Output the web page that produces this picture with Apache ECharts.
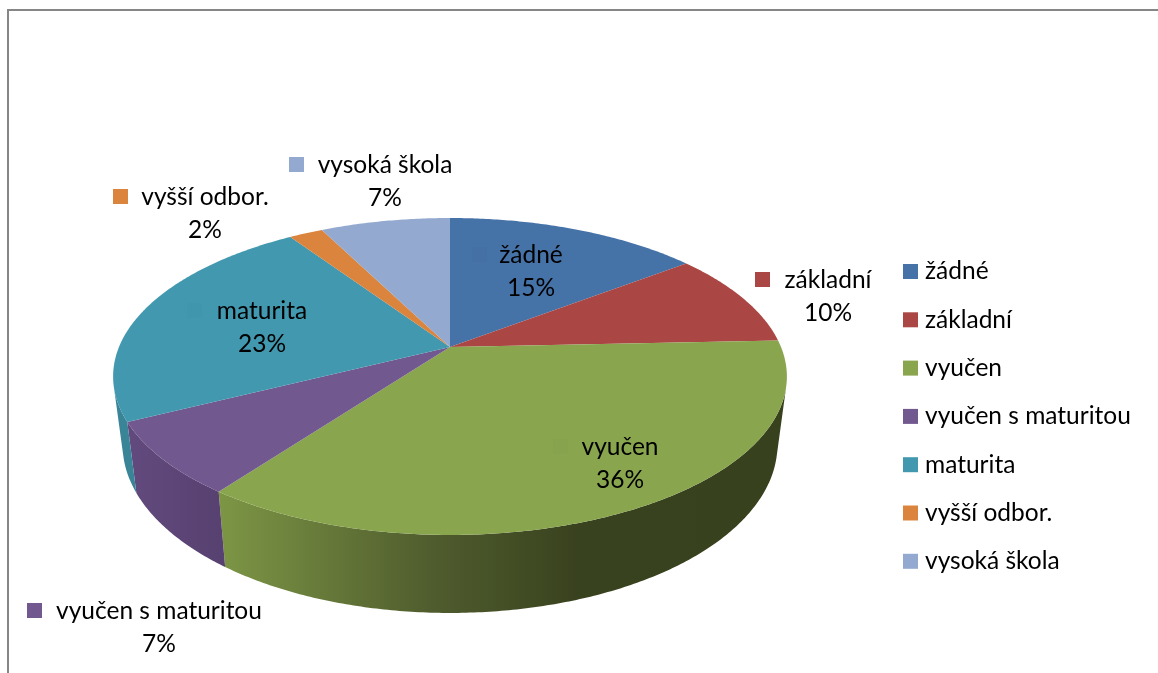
<!DOCTYPE html>
<html>
<head>
<meta charset="utf-8">
<style>
  html, body { margin: 0; padding: 0; background: #fff; }
  #chart { width: 1158px; height: 673px; }
</style>
<script src="https://cdn.jsdelivr.net/npm/echarts@6/dist/echarts.min.js"></script>
</head>
<body>
<div id="chart"></div>
<script>
const categories = ['žádné', 'základní', 'vyučen', 'vyučen s maturitou', 'maturita', 'vyšší odbor.', 'vysoká škola'];
const shares = [14.6, 9.7, 35.8, 7.45, 23, 1.95, 7.45];

const colors = ['#4572a7', '#aa4643', '#89a54e', '#71588f', '#4198af', '#db843d', '#93a9cf'];
// side wall shading, only the front slices show it
const wallStops = [
  [[0, '#2f4d70'], [1, '#2f4d70']],
  [[0, '#6e2e2c'], [1, '#6e2e2c']],
  [[0, '#7d9645'], [0.37, '#505d2e'], [0.63, '#39421e'], [1, '#38411d']],
  [[0, '#624a7e'], [1, '#574170']],
  [[0, '#3a8498'], [1, '#3a8498']],
  [[0, '#8f5628'], [1, '#8f5628']],
  [[0, '#606e87'], [1, '#606e87']]
];
// hand placed data labels, like in the original: text centre, line 1 y, key left
const labelPos = [[531, 255], [828, 280], [620, 447], [159, 611], [262, 311], [205, 197], [385, 165]];
const keyX = [472, 755, 553, 27, 187, 113, 289];
const insideLabel = [true, false, true, false, true, false, false];

const font = 'Lato';
const fontSize = 24.5;
const total = shares.reduce((a, b) => a + b, 0);

// perspective of the pie top, apex is not in the middle of the ellipse
const apex = [450, 347], k = 0.186, A = 153, B = 331;
function topPoint(angle) {
  const x = Math.sin(angle), y = Math.cos(angle), w = 1 + k * y;
  return [apex[0] + B * x / w, apex[1] - A * y / w];
}
function bottomPoint(p) {
  return [apex[0] + (p[0] - apex[0]) * 0.972, 44.8 + 1.062 * p[1]];
}

// outer wall as one path of quads, only the ones facing us, so no seams
function wallPath(rim) {
  let d = '';
  for (let s = 0; s < rim.length - 1; s++) {
    const q = [rim[s], rim[s + 1], bottomPoint(rim[s + 1]), bottomPoint(rim[s])];
    let area = 0;
    for (let n = 0; n < 4; n++) {
      const a = q[n], b = q[(n + 1) % 4];
      area += a[0] * b[1] - b[0] * a[1];
    }
    if (area > 0) continue;
    d += 'M' + q.map(p => p[0].toFixed(2) + ' ' + p[1].toFixed(2)).join('L') + 'Z';
  }
  return d;
}

function renderSlice(i) {
  return function (params, api) {
    let before = 0;
    for (let j = 0; j < i; j++) before += shares[j];
    const a0 = before / total * Math.PI * 2;
    const a1 = (before + api.value(0)) / total * Math.PI * 2;
    const steps = Math.max(2, Math.ceil((a1 - a0) / 0.01));
    const rim = [];
    for (let s = 0; s <= steps; s++) rim.push(topPoint(a0 + (a1 - a0) * s / steps));

    const grad = new echarts.graphic.LinearGradient(
      i === 2 ? 219 : 126, 0, i === 2 ? 787 : 225, 0,
      wallStops[i].map(s => ({ offset: s[0], color: s[1] })), true);

    const pct = Math.round(api.value(0) / total * 100) + '%';
    const lp = labelPos[i];
    const textStyle = { fontFamily: font, fontSize: fontSize, fill: '#000', align: 'center', verticalAlign: 'middle' };
    const children = [
      { type: 'polygon', z2: 2, shape: { points: [apex].concat(rim) }, style: { fill: colors[i] } },
      { type: 'rect', z2: 3, shape: { x: keyX[i], y: lp[1] - 8, width: 15, height: 15 },
        style: { fill: insideLabel[i] ? 'rgba(0,0,0,0.012)' : colors[i] } },
      { type: 'text', z2: 4, x: lp[0], y: lp[1], style: Object.assign({ text: categories[i] }, textStyle) },
      { type: 'text', z2: 4, x: lp[0], y: lp[1] + 33, style: Object.assign({ text: pct }, textStyle) }
    ];
    const wall = wallPath(rim);
    if (wall) children.unshift({ type: 'path', z2: 1, shape: { pathData: wall }, style: { fill: grad } });
    return { type: 'group', children: children };
  };
}

const chart = echarts.init(document.getElementById('chart'));
chart.setOption({
  backgroundColor: '#fff',
  animation: false,
  tooltip: { show: false },
  graphic: [{
    type: 'rect', z: -1, silent: true,
    shape: { x: 8, y: 10, width: 1200, height: 700 },
    style: { fill: '#fff', stroke: '#868686', lineWidth: 2 }
  }],
  legend: {
    orient: 'vertical',
    left: 903,
    top: 259,
    padding: 0,
    icon: 'rect',
    itemWidth: 15,
    itemHeight: 15,
    itemGap: 23.3,
    selectedMode: false,
    textStyle: { fontFamily: font, fontSize: fontSize, color: '#000', lineHeight: 23.3, padding: [0, 0, 0, 2] },
    data: categories
  },
  series: categories.map((name, i) => ({
    name: name,
    type: 'custom',
    coordinateSystem: 'none',
    silent: true,
    itemStyle: { color: colors[i] },
    data: [[shares[i]]],
    renderItem: renderSlice(i)
  }))
});
</script>
</body>
</html>
